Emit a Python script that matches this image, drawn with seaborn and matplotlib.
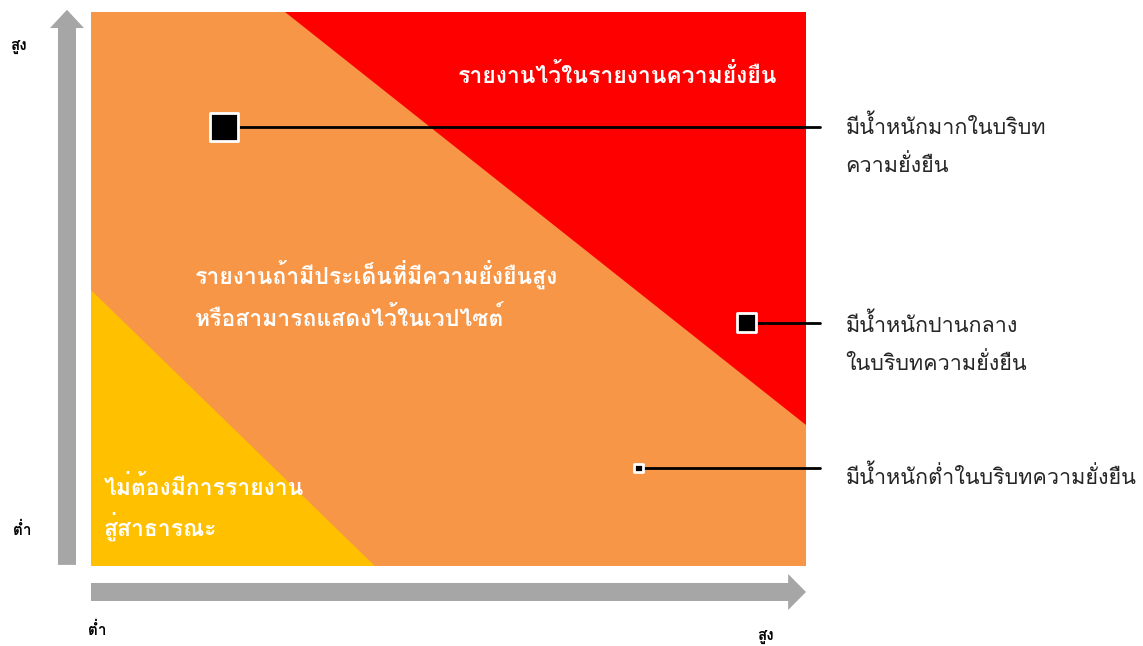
import matplotlib
matplotlib.use("Agg")
import matplotlib.pyplot as plt
import matplotlib.patches as mpatches
import seaborn as sns
import pandas as pd

# matrix zones (data units 0..10 on both axes)
red_zone_x = [2.71, 10.0, 10.0]
red_zone_y = [10.0, 10.0, 2.55]
yellow_zone_x = [0.0, 0.0, 3.97]
yellow_zone_y = [0.0, 4.98, 0.0]

# issues placed on the matrix
issue_labels = ["มีน้ำหนักมากในบริบท\nความยั่งยืน",
                "มีน้ำหนักปานกลาง\nในบริบทความยั่งยืน",
                "มีน้ำหนักต่ำในบริบทความยั่งยืน"]
issue_x = [1.86, 9.17, 7.66]
issue_y = [7.92, 4.39, 1.77]
issue_weight = ["high", "mid", "low"]

zone_texts = {
    "red": ["รายงานไว้ในรายงานความยั่งยืน"],
    "orange": ["รายงานถ้ามีประเด็นที่มีความยั่งยืนสูง", "หรือสามารถแสดงไว้ในเวปไซต์"],
    "yellow": ["ไม่ต้องมีการรายงาน", "สู่สาธารณะ"],
}

sns.set_theme(style="white")
plt.rcParams['font.family'] = ['Loma', 'DejaVu Sans']

fig = plt.figure(figsize=(11.43, 6.46), dpi=100)
ax = fig.add_axes([91 / 1143, 80 / 646, 715 / 1143, 554 / 646])
ax.set_xlim(0, 10)
ax.set_ylim(0, 10)

ax.add_patch(mpatches.Rectangle((0, 0), 10, 10, color="#F79646", zorder=0))
ax.fill(red_zone_x, red_zone_y, color="#FF0000", zorder=1, lw=0)
ax.fill(yellow_zone_x, yellow_zone_y, color="#FFC000", zorder=1, lw=0)

# leader lines to the labels on the right
for xv, yv in zip(issue_x, issue_y):
    ax.plot([xv, 10.2], [yv, yv], color="black", lw=2, zorder=2, clip_on=False)

df = pd.DataFrame({"x": issue_x, "y": issue_y, "w": issue_weight})
sns.scatterplot(data=df, x="x", y="y", size="w",
                sizes={"high": 420, "mid": 190, "low": 40},
                marker="s", color="black", edgecolor="white", linewidth=2,
                legend=False, ax=ax, zorder=3, clip_on=False)
ax.set_xlabel("")
ax.set_ylabel("")
ax.axis("off")

# zone texts
ax.text(7.37, 8.86, zone_texts["red"][0], color="white", fontsize=16.5,
        fontweight="bold", ha="center", va="center", zorder=4)
for i, line in enumerate(zone_texts["orange"]):
    ax.text(1.45, 5.26 - i * 0.78, line, color="white", fontsize=16.5,
            fontweight="bold", ha="left", va="center", zorder=4)
for i, line in enumerate(zone_texts["yellow"]):
    ax.text(0.18, 1.43 - i * 0.72, line, color="white", fontsize=16.5,
            fontweight="bold", ha="left", va="center", zorder=4)

# labels on the right
label_y = [7.92, 4.35, 1.61]
for lab, yv in zip(issue_labels, label_y):
    for j, line in enumerate(lab.split("\n")):
        ax.text(10.55, yv - j * 0.70, line, color="#262626", fontsize=15.5,
                ha="left", va="center", clip_on=False)

# axis arrows
grey = "#A6A6A6"
ax.add_patch(mpatches.FancyArrow(-0.336, 0.02, 0, 10.02, width=0.252,
                                 head_width=0.476, head_length=0.33,
                                 length_includes_head=True, color=grey,
                                 lw=0, clip_on=False))
ax.add_patch(mpatches.FancyArrow(0.0, -0.469, 10.0, 0, width=0.325,
                                 head_width=0.65, head_length=0.25,
                                 length_includes_head=True, color=grey,
                                 lw=0, clip_on=False))

# axis end labels
for txt, xv, yv in [("สูง", -1.02, 9.37), ("ต่ำ", -0.965, 0.65),
                    ("ต่ำ", 0.084, -1.155), ("สูง", 9.43, -1.28)]:
    ax.text(xv, yv, txt, color="black", fontsize=11, fontweight="bold",
            ha="center", va="center", clip_on=False)

fig.savefig("out.png", dpi=100)
